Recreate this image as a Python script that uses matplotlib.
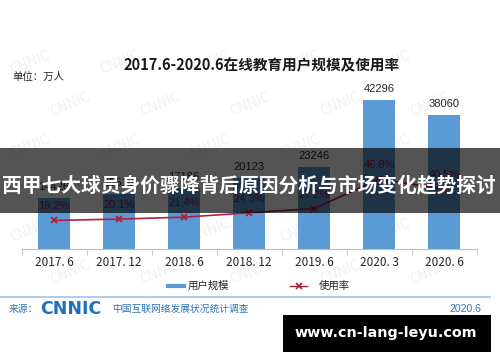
import numpy as np
import matplotlib
matplotlib.use('Agg')
import matplotlib.pyplot as plt
from matplotlib.patches import Rectangle
from matplotlib.lines import Line2D

plt.rcParams['font.family'] = ['Noto Sans CJK SC', 'DejaVu Sans']

# data
periods = ['2017. 6', '2017. 12', '2018. 6', '2018. 12', '2019. 6', '2020. 3', '2020. 6']
users = [14426, 15518, 17186, 20123, 23246, 42296, 38060]   # 万人
rates = [19.2, 20.1, 21.4, 24.3, 27.2, 46.8, 40.5]           # %

title = '2017.6-2020.6在线教育用户规模及使用率'
banner = '西甲七大球员身价骤降背后原因分析与市场变化趋势探讨'
site = 'www.cn-lang-leyu.com'

bar_color = '#5B9BD5'
line_color = '#B3203C'
W, H = 500, 362


def fx(px):
    return px / W


def fy(py):
    return 1 - py / H


fig = plt.figure(figsize=(W / 100, H / 100), dpi=100)
fig.patch.set_facecolor('white')

# faint CNNIC watermark pattern, behind the chart
for row, y0 in enumerate(range(62, 300, 42)):
    for x0 in range(30, 470, 90):
        fig.text(fx(x0 + (row % 2) * 40), fy(y0), 'CNNIC', fontsize=10, color='#f1f1f1',
                 rotation=22, ha='center', va='center', zorder=-1)

# main axes: baseline at y=249 px, top at y=60 px
ax = fig.add_axes([fx(21.5), fy(249), fx(476.5) - fx(21.5), fy(60) - fy(249)])
ax.set_facecolor('none')
x = np.arange(len(periods))
ax.bar(x, users, width=0.48, color=bar_color, zorder=2)
ax.set_xlim(-0.5, 6.5)
ax.set_ylim(0, 53650)
for s in ['top', 'left', 'right']:
    ax.spines[s].set_visible(False)
ax.spines['bottom'].set_color('#bfbfbf')
ax.set_yticks([])
ax.set_xticks(x)
ax.set_xticklabels(periods, fontsize=8.5, color='#262626')
ax.tick_params(axis='x', length=0, pad=5)
ax.set_xticks(np.arange(-0.5, 7, 1), minor=True)
ax.tick_params(axis='x', which='minor', length=4, color='#bfbfbf')
for i, v in enumerate(users):
    ax.annotate(str(v), (i, v), xytext=(0, 6), textcoords='offset pixels',
                ha='center', va='bottom', fontsize=8, color='#262626',
                family=['Liberation Sans', 'DejaVu Sans'])

ax2 = ax.twinx()
ax2.set_ylim(0, 127)
ax2.axis('off')
ax2.plot(x, rates, color=line_color, lw=1.2, marker='x', ms=5, mew=1.4, zorder=3)
for i, r in enumerate(rates):
    ax2.annotate('%.1f%%' % r, (i, r), xytext=(0, 9), textcoords='offset pixels',
                 ha='center', va='bottom', fontsize=8, color='#A01830',
                 family=['Liberation Sans', 'DejaVu Sans'])

# title and unit
fig.text(fx(262), fy(65), title, ha='center', va='center', fontsize=10.5, fontweight='bold', color='#1a1a1a')
fig.text(fx(12), fy(77), '单位：万人', ha='left', va='center', fontsize=7.5, color='#262626')

# legend
fig.add_artist(Line2D([fx(168), fx(184)], [fy(286), fy(286)], color=bar_color, lw=3))
fig.text(fx(188), fy(286), '用户规模', ha='left', va='center', fontsize=7.5, color='#262626')
fig.add_artist(Line2D([fx(290), fx(307)], [fy(286), fy(286)], color=line_color, lw=1))
fig.add_artist(Line2D([fx(298.5)], [fy(286)], color=line_color, marker='x', ms=4, mew=1.2))
fig.text(fx(319), fy(286), '使用率', ha='left', va='center', fontsize=7.5, color='#262626')

# footer
fig.add_artist(Line2D([0, fx(490)], [fy(297), fy(297)], color='#9DC3E6', lw=1.2))
fig.text(fx(9), fy(309), '来源：', ha='left', va='center', fontsize=7, color='#2E75B6')
fig.text(fx(40), fy(309), 'CNNIC', ha='left', va='center', fontsize=12.5, fontweight='heavy',
         color='#1F6FC0', family=['DejaVu Sans'])
fig.text(fx(112), fy(309), '中国互联网络发展状况统计调查', ha='left', va='center', fontsize=7, color='#2E75B6')
fig.text(fx(481), fy(309), '2020.6', ha='right', va='center', fontsize=7.5, color='#2E75B6',
         family=['Liberation Sans', 'DejaVu Sans'])

# overlay banner
fig.add_artist(Rectangle((0, fy(213)), 1, fy(148) - fy(213), transform=fig.transFigure,
                         facecolor='black', alpha=0.67, edgecolor='none', zorder=10))
fig.text(fx(249), fy(185), banner, ha='center', va='center', fontsize=14.2, fontweight='bold',
         color='white', zorder=11)

# site box
fig.add_artist(Rectangle((fx(283), fy(352)), fx(491) - fx(283), fy(315) - fy(352),
                         transform=fig.transFigure, facecolor='black', edgecolor='none', zorder=10))
fig.text(fx(386), fy(333.5), site, ha='center', va='center', fontsize=10.3, fontweight='bold',
         color='white', zorder=11, family=['DejaVu Sans'])

fig.savefig('out.png', dpi=100)
